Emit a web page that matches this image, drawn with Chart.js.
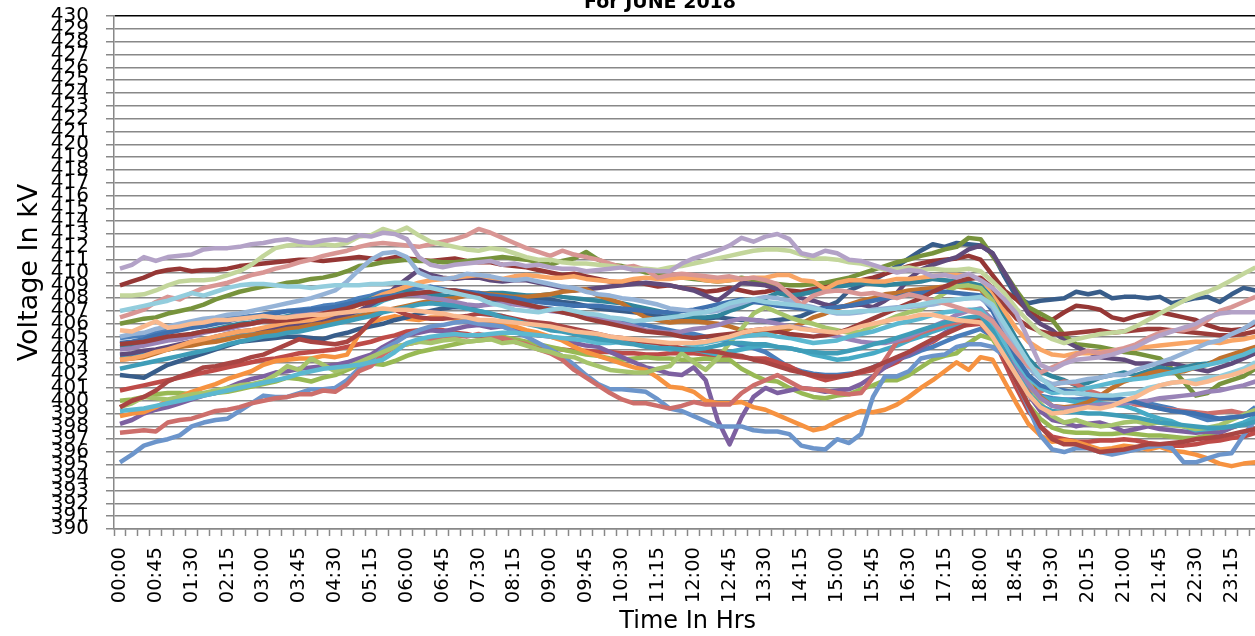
<!DOCTYPE html>
<html>
<head>
<meta charset="utf-8">
<title>Voltage profile - June 2018</title>
<script src="https://cdn.jsdelivr.net/npm/chart.js@4.4.1/dist/chart.umd.min.js"></script>
<style>
  html, body { margin: 0; padding: 0; background: #fff; overflow: hidden; }
  body { width: 1255px; height: 636px; position: relative; }
  #voltageChart { position: absolute; left: 0; top: -30px; }
  #chartTitle {
    position: absolute; top: -10px; left: 460px; width: 400px; text-align: center;
    font-family: "DejaVu Sans", sans-serif; font-weight: bold; font-size: 19px; line-height: 22px; color: #000;
  }
</style>
</head>
<body>
<canvas id="voltageChart" width="1290" height="666"></canvas>
<div id="chartTitle">For JUNE 2018</div>
<script>
// time of day, 15 minute steps
const times = [
  '00:00','00:15','00:30','00:45','01:00','01:15','01:30','01:45','02:00','02:15','02:30','02:45',
  '03:00','03:15','03:30','03:45','04:00','04:15','04:30','04:45','05:00','05:15','05:30','05:45',
  '06:00','06:15','06:30','06:45','07:00','07:15','07:30','07:45','08:00','08:15','08:30','08:45',
  '09:00','09:15','09:30','09:45','10:00','10:15','10:30','10:45','11:00','11:15','11:30','11:45',
  '12:00','12:15','12:30','12:45','13:00','13:15','13:30','13:45','14:00','14:15','14:30','14:45',
  '15:00','15:15','15:30','15:45','16:00','16:15','16:30','16:45','17:00','17:15','17:30','17:45',
  '18:00','18:15','18:30','18:45','19:00','19:15','19:30','19:45','20:00','20:15','20:30','20:45',
  '21:00','21:15','21:30','21:45','22:00','22:15','22:30','22:45','23:00','23:15','23:30','23:45'
];

// voltage readings (kV)
const lavender = [
  410.3,410.6,411.2,410.9,411.2,411.3,411.4,411.8,411.9,411.9,412.0,412.2,
  412.3,412.5,412.6,412.4,412.3,412.5,412.6,412.5,412.9,412.8,413.1,413.0,
  412.6,411.2,410.6,410.4,410.6,410.7,410.8,410.9,410.6,410.7,410.5,410.6,
  410.4,410.3,410.3,410.1,410.2,410.3,410.4,410.2,410.2,410.1,410.1,410.7,
  411.1,411.4,411.7,412.1,412.7,412.4,412.8,413.0,412.6,411.5,411.3,411.7,
  411.5,411.0,410.9,410.6,410.3,410.0,410.2,410.1,409.7,409.8,409.6,409.9,
  409.4,408.8,407.9,406.8,404.8,402.8,402.4,402.9,403.2,403.3,403.4,403.6,
  403.9,404.2,404.7,405.1,405.4,405.7,406.0,406.5,406.8,406.9,406.9,406.9
];
const darkRed = [
  409.0,409.3,409.6,410.0,410.2,410.3,410.1,410.2,410.2,410.3,410.5,410.6,
  410.7,410.8,410.9,411.0,411.0,410.9,411.0,411.1,411.2,411.1,411.0,411.2,
  411.1,411.0,410.9,411.0,411.1,410.9,410.8,410.8,410.6,410.5,410.4,410.2,
  410.0,409.8,409.9,409.7,409.5,409.3,409.2,409.3,409.1,408.9,409.0,408.8,
  408.7,408.5,408.6,408.8,408.6,408.4,408.5,408.7,408.6,408.5,408.7,408.9,
  409.0,409.2,409.4,409.6,409.9,410.2,410.5,410.7,410.9,411.0,411.1,411.3,
  411.0,409.8,408.6,407.9,407.0,406.4,406.3,406.9,407.4,407.3,407.1,406.5,
  406.3,406.6,406.8,406.9,406.7,406.5,406.3,405.9,405.6,405.5,405.6,406.0
];
const lightGreen = [
  408.2,408.2,408.3,408.6,409.0,409.3,409.4,409.4,409.5,409.8,410.1,410.6,
  411.3,411.9,412.1,412.2,412.1,412.2,412.1,412.3,412.8,412.9,413.4,413.1,
  413.5,412.9,412.4,412.2,412.0,411.8,411.7,411.9,411.8,411.5,411.2,411.0,
  411.0,410.8,410.7,410.7,410.6,410.5,410.4,410.3,410.3,410.2,410.4,410.5,
  410.7,410.9,411.1,411.3,411.5,411.7,411.8,411.8,411.7,411.4,411.1,411.1,
  411.0,410.8,410.7,410.5,410.2,410.3,410.4,410.2,410.3,410.2,410.2,410.3,
  410.1,409.3,408.4,407.2,406.2,405.3,404.8,404.5,404.8,405.0,405.2,405.3,
  405.4,405.8,406.3,406.8,407.3,407.8,408.2,408.5,408.9,409.4,409.9,410.4
];
const pink = [
  406.5,406.8,407.1,407.7,408.1,407.9,408.4,408.8,409.0,409.2,409.5,409.8,
  410.0,410.3,410.5,410.8,411.0,411.3,411.5,411.7,412.0,412.2,412.3,412.2,
  412.1,412.0,412.2,412.4,412.6,412.9,413.4,413.1,412.7,412.3,411.9,411.6,
  411.3,411.7,411.4,411.2,411.0,410.7,410.4,410.5,410.2,409.6,409.8,409.9,
  409.8,409.7,409.6,409.7,409.5,409.6,409.4,409.1,408.3,407.5,408.2,408.5,
  408.6,408.5,408.3,408.4,408.2,408.0,408.3,408.1,407.8,407.6,407.3,407.0,
  406.8,406.2,405.0,403.8,402.7,402.2,402.6,403.0,403.6,403.9,403.7,403.9,
  404.1,404.4,404.9,405.3,405.5,405.5,405.7,406.3,407.0,407.3,407.7,408.1
];
const periwinkle = [
  405.0,405.2,405.3,405.6,405.8,406.0,406.2,406.4,406.5,406.7,406.8,407.0,
  407.2,407.4,407.6,407.8,408.0,408.3,408.6,409.3,410.2,411.0,411.5,411.6,
  411.2,410.0,409.6,409.5,409.6,409.9,409.8,409.7,409.5,409.4,409.5,409.3,
  409.1,408.9,408.8,408.5,408.3,408.2,408.0,407.9,407.7,407.5,407.2,407.1,
  407.0,406.9,407.0,407.3,407.6,407.9,408.1,408.0,407.8,407.5,407.3,407.0,
  406.8,406.8,406.9,407.1,407.2,407.3,407.3,407.4,407.5,407.7,407.9,408.0,
  408.0,407.3,405.6,404.0,402.6,401.7,401.3,401.4,401.5,401.7,401.8,402.0,
  402.0,402.4,402.7,403.0,403.3,403.7,404.1,404.5,404.7,405.2,405.6,406.2
];
const lightAqua = [
  407.0,407.2,407.4,407.6,407.8,408.1,408.4,408.2,408.5,408.8,409.0,409.1,
  409.1,409.0,408.9,408.9,408.8,408.9,409.0,409.0,409.0,409.1,409.1,409.2,
  409.2,409.0,408.8,408.6,408.4,408.2,408.0,407.6,407.4,407.1,407.0,406.9,
  407.1,407.2,407.0,406.8,406.7,406.5,406.4,406.2,406.3,406.4,406.5,406.6,
  406.8,406.9,407.2,407.6,407.8,407.9,407.7,407.6,407.5,407.4,407.2,407.0,
  406.9,406.9,407.0,407.0,407.1,407.2,407.4,407.5,407.7,407.8,407.9,408.0,
  408.1,407.5,406.0,404.5,403.0,401.8,401.0,400.6,400.6,400.5,400.4,400.4,
  400.5,400.6,401.0,401.2,401.4,401.5,401.6,401.8,401.9,402.2,402.5,403.0
];
const darkBlue = [
  402.0,401.9,401.8,402.3,402.8,403.1,403.4,403.7,404.0,404.3,404.6,404.7,
  404.8,404.9,405.0,405.0,404.9,404.8,405.1,405.3,405.6,405.8,406.0,406.3,
  406.5,406.8,407.0,407.2,407.3,407.3,407.4,407.6,407.9,407.8,407.8,407.9,
  407.9,407.7,407.6,407.4,407.2,407.1,407.0,406.9,406.8,406.6,406.5,406.5,
  406.4,406.4,406.5,406.4,406.3,406.3,406.2,406.3,406.4,406.6,407.0,407.3,
  407.7,408.6,409.0,409.4,409.9,410.5,411.1,411.7,412.2,412.0,412.3,412.2,
  412.1,411.5,409.7,408.1,407.6,407.8,407.9,408.0,408.5,408.3,408.5,408.0,
  408.1,408.1,408.0,408.1,407.6,407.8,408.0,408.1,407.7,408.3,408.8,408.6
];
const olive = [
  406.0,406.2,406.4,406.5,406.8,407.0,407.2,407.5,407.9,408.2,408.5,408.7,
  408.9,409.0,409.2,409.3,409.5,409.6,409.8,410.1,410.5,410.6,410.8,410.9,
  411.0,410.9,410.9,410.8,410.8,410.9,411.0,411.1,411.2,411.1,411.0,410.8,
  410.6,410.9,411.1,411.6,411.0,410.6,410.5,410.3,410.0,409.9,409.7,409.6,
  409.5,409.4,409.3,409.4,409.6,409.4,409.2,409.1,409.0,409.0,409.1,409.2,
  409.4,409.6,409.9,410.2,410.5,410.8,411.0,411.3,411.5,411.8,412.0,412.7,
  412.6,411.3,410.0,408.6,407.3,406.8,406.3,405.1,404.4,404.3,404.2,404.0,
  403.8,403.7,403.5,403.3,402.5,401.5,400.4,400.6,401.3,401.6,401.9,402.5
];
const darkPurple = [
  403.6,403.7,403.9,404.0,404.2,404.4,404.6,404.7,405.0,405.2,405.4,405.5,
  405.6,405.7,405.8,406.0,406.2,406.3,406.5,406.7,407.0,407.5,408.0,408.8,
  409.5,410.2,409.8,409.6,409.5,409.6,409.6,409.4,409.3,409.4,409.4,409.2,
  409.0,408.8,408.6,408.7,408.8,408.9,409.0,409.1,409.2,409.1,409.0,408.8,
  408.6,408.2,407.8,408.5,409.2,409.1,409.0,408.7,408.3,408.0,407.8,407.5,
  407.3,407.4,407.5,407.3,407.8,408.4,409.5,410.2,410.6,410.9,411.2,411.8,
  412.1,411.5,410.0,408.4,406.8,406.0,405.5,404.7,404.2,403.8,403.4,403.3,
  403.2,402.9,402.9,402.8,402.9,402.7,402.5,402.3,402.6,402.9,403.3,403.7
];
const brick = [
  399.5,400.0,400.3,400.8,401.5,401.9,402.2,402.6,402.7,402.9,403.1,403.4,
  403.6,404.0,404.4,404.8,404.6,404.5,404.4,404.6,405.2,406.2,407.0,407.1,
  406.7,406.5,406.4,406.4,406.5,406.6,406.8,406.7,406.6,406.4,406.2,406.1,
  406.0,405.8,405.6,405.4,405.2,405.0,404.9,404.7,404.6,404.5,404.3,404.1,
  404.0,403.9,403.8,403.6,403.5,403.2,403.0,402.7,402.4,402.2,402.0,401.9,
  401.9,402.0,402.3,402.6,403.0,403.4,403.8,404.3,404.8,405.2,405.6,406.0,
  406.4,405.2,403.4,401.5,399.7,398.0,397.0,396.6,396.6,396.3,396.0,396.1,
  396.2,396.4,396.6,396.6,396.7,396.8,397.0,397.1,397.2,397.4,397.6,397.8
];
const maroon = [
  404.4,404.5,404.6,404.8,405.0,405.1,405.2,405.4,405.5,405.7,405.9,406.0,
  406.2,406.2,406.3,406.4,406.6,406.8,407.0,407.2,407.5,407.7,407.9,408.1,
  408.3,408.4,408.5,408.6,408.6,408.4,408.2,408.0,407.9,407.7,407.5,407.3,
  407.1,406.9,406.7,406.4,406.2,406.0,405.8,405.6,405.4,405.3,405.2,405.0,
  404.9,405.0,405.1,405.2,405.3,405.5,405.6,405.4,405.2,405.1,405.0,405.1,
  405.3,405.6,406.0,406.4,406.8,407.2,407.6,408.0,408.5,408.9,409.3,409.5,
  409.6,408.8,407.5,406.4,405.8,405.4,405.2,405.2,405.3,405.4,405.5,405.3,
  405.4,405.5,405.6,405.6,405.5,405.4,405.3,405.2,405.1,405.1,405.2,405.4
];
const steelBlue = [
  395.2,395.8,396.5,396.8,397.0,397.3,398.0,398.3,398.5,398.6,399.2,399.8,
  400.4,400.3,400.3,400.6,400.9,400.9,401.0,401.6,402.5,403.2,404.0,404.5,
  405.1,405.5,405.8,405.9,406.1,406.2,406.0,405.9,405.8,405.4,405.0,404.5,
  404.0,403.5,402.8,402.0,401.3,400.9,400.9,400.8,400.7,400.1,399.4,399.2,
  398.8,398.4,398.0,398.0,398.0,397.7,397.6,397.6,397.4,396.5,396.3,396.2,
  397.0,396.7,397.4,400.3,401.9,401.9,402.3,403.3,403.5,403.6,404.2,404.4,
  404.4,404.2,403.5,401.5,399.5,397.3,396.2,396.0,396.3,396.3,396.0,395.8,
  396.0,396.2,396.4,396.5,396.3,395.2,395.2,395.5,395.8,395.9,397.3,398.5
];
const salmon = [
  397.5,397.6,397.7,397.6,398.3,398.5,398.6,398.9,399.2,399.3,399.5,399.8,
  400.0,400.2,400.3,400.5,400.5,400.8,400.7,401.3,402.3,402.7,403.6,404.2,
  404.4,404.6,404.8,405.0,405.1,405.0,405.2,405.0,404.9,404.6,404.4,404.0,
  403.7,403.2,402.4,401.8,401.2,400.6,400.1,399.8,399.8,399.6,399.4,399.6,
  399.9,399.7,399.7,399.7,400.6,401.2,401.6,402.0,401.5,401.0,400.9,400.8,
  400.6,400.5,400.6,401.8,403.2,404.6,404.8,405.3,405.6,405.9,406.1,406.3,
  406.3,405.5,403.5,401.5,400.8,400.7,401.2,401.5,401.3,400.8,400.5,400.3,
  400.0,399.7,399.6,399.4,399.3,399.2,399.1,399.0,399.1,399.2,399.0,399.0
];
const purple = [
  398.2,398.5,399.0,399.3,399.5,399.8,400.1,400.4,400.6,401.0,401.4,401.7,
  401.9,402.2,402.3,402.5,402.6,402.7,402.8,403.0,403.3,403.6,404.2,404.7,
  405.1,405.3,405.5,405.4,405.6,405.8,405.9,405.7,405.8,405.5,405.3,405.1,
  405.0,404.8,404.5,404.3,404.2,403.8,403.4,403.0,402.6,402.4,402.1,402.0,
  402.6,401.6,398.5,396.6,398.7,400.3,401.0,400.6,400.8,401.0,400.9,400.7,
  400.8,400.9,401.3,401.9,402.6,403.2,403.6,404.1,404.7,405.3,405.8,406.2,
  406.5,405.6,404.0,402.2,400.5,399.2,398.5,398.3,398.0,398.2,398.3,398.0,
  397.6,397.8,398.0,397.8,397.7,397.6,397.5,397.6,397.5,397.9,398.2,398.7
];
const orange = [
  398.8,399.0,399.1,399.5,400.0,400.3,400.7,401.0,401.3,401.7,402.0,402.3,
  402.8,403.1,403.2,403.3,403.3,403.5,403.4,403.6,405.2,406.1,406.4,406.6,
  406.4,406.3,406.5,406.5,406.4,406.3,406.3,406.1,405.9,405.8,405.5,405.3,
  405.0,404.7,404.2,403.8,403.5,403.2,402.9,402.6,402.4,401.8,401.1,401.0,
  400.7,400.0,399.8,399.8,399.9,399.5,399.3,398.9,398.5,398.1,397.7,397.9,
  398.4,398.8,399.2,399.1,399.3,399.7,400.3,401.0,401.6,402.3,403.0,402.4,
  403.4,403.2,401.5,399.8,398.2,397.3,396.8,396.9,396.8,396.5,396.2,396.3,
  396.5,396.4,396.2,396.4,396.1,396.0,395.8,395.5,395.1,394.9,395.1,395.2
];
const aqua = [
  403.5,403.6,403.8,403.9,404.0,404.2,404.4,404.6,404.8,404.9,405.1,405.3,
  405.5,405.6,405.8,405.9,406.0,406.1,406.2,406.4,406.8,407.3,407.8,408.1,
  408.4,408.3,408.1,407.8,407.5,407.2,407.0,406.8,406.6,406.3,406.1,406.0,
  405.8,405.6,405.4,405.2,405.0,404.9,404.8,404.6,404.5,404.3,404.1,404.0,
  404.0,403.8,403.6,403.8,404.0,404.2,404.3,404.2,404.1,403.9,403.6,403.4,
  403.2,403.3,403.5,403.7,404.0,404.3,404.7,405.0,405.4,405.7,406.0,406.2,
  406.4,405.4,403.6,402.0,400.9,400.3,400.1,400.1,399.9,399.9,399.8,399.7,
  399.6,399.3,398.9,398.6,398.4,398.0,397.7,397.8,397.9,398.0,398.3,398.7
];
const blue = [
  404.9,405.0,405.1,405.4,405.6,405.8,405.9,406.1,406.2,406.4,406.5,406.6,
  406.7,406.9,407.0,407.1,407.2,407.4,407.5,407.7,408.0,408.2,408.5,408.6,
  408.7,408.8,408.9,408.7,408.5,408.3,408.1,408.0,407.8,407.6,407.5,407.3,
  407.2,407.0,406.9,406.7,406.6,406.4,406.2,406.0,405.9,405.7,405.5,405.3,
  405.2,405.0,404.8,404.6,404.3,404.1,403.8,403.2,402.6,402.3,402.1,402.0,
  402.0,402.1,402.2,402.6,403.0,403.2,403.5,403.9,404.2,404.6,405.0,405.3,
  405.6,405.0,403.5,402.0,401.0,400.4,400.2,400.1,400.1,400.2,400.2,400.3,
  400.1,399.9,399.8,399.6,399.4,399.1,398.8,398.5,398.6,398.7,398.8,399.5
];
const teal = [
  404.2,404.3,404.5,404.7,404.9,405.0,405.2,405.4,405.6,405.8,406.0,406.1,
  406.3,406.4,406.6,406.8,407.0,407.1,407.3,407.5,407.7,408.0,408.2,408.4,
  408.5,408.4,408.3,408.2,408.1,408.2,408.3,408.4,408.4,408.3,408.2,408.2,
  408.3,408.1,408.0,407.9,407.8,407.7,407.6,407.4,407.2,407.0,406.8,406.6,
  406.5,406.5,406.6,407.0,407.3,407.7,408.0,408.4,408.2,408.3,408.5,408.7,
  408.9,409.0,409.2,409.1,409.0,409.1,409.2,409.3,409.5,409.4,409.3,409.2,
  409.0,408.0,406.5,404.8,403.3,402.3,401.9,401.6,401.2,401.4,401.8,402.0,
  402.2,402.0,402.3,402.6,402.4,402.6,402.8,402.9,403.1,403.3,403.6,404.0
];
const brown = [
  403.2,403.3,403.4,403.7,404.0,404.2,404.3,404.5,404.6,404.8,405.0,405.1,
  405.3,405.4,405.6,405.7,405.9,406.0,406.2,406.4,406.6,406.8,407.0,407.2,
  407.4,407.6,407.8,407.9,408.0,408.2,408.4,408.3,408.2,408.1,408.1,408.2,
  408.3,408.5,408.6,408.7,408.2,407.9,407.6,407.0,406.5,406.3,406.1,406.2,
  406.2,406.1,406.0,405.8,405.5,405.4,405.3,405.4,405.6,406.0,406.5,406.8,
  407.2,407.5,407.8,408.0,408.3,408.4,408.6,408.7,408.8,408.9,408.9,408.8,
  408.7,407.5,405.5,403.5,401.8,400.3,399.6,399.5,399.6,399.9,400.4,401.0,
  401.5,401.8,402.1,402.3,402.2,402.3,402.6,402.8,403.3,403.6,403.9,404.2
];
const peach = [
  405.5,405.4,405.8,406.2,405.7,405.8,406.0,406.1,406.3,406.3,406.4,406.5,
  406.6,406.5,406.5,406.6,406.7,406.7,406.8,406.9,407.0,407.1,407.2,407.1,
  407.1,407.0,406.9,406.8,406.6,406.5,406.3,406.3,406.2,406.1,406.0,405.9,
  405.8,405.6,405.4,405.3,405.2,405.0,404.9,404.8,404.7,404.6,404.5,404.5,
  404.5,404.6,404.8,405.0,405.3,405.5,405.6,405.7,405.8,405.6,405.5,405.4,
  405.3,405.5,405.8,406.0,406.2,406.4,406.5,406.7,406.7,406.5,406.3,406.2,
  406.1,405.0,403.5,402.0,400.5,399.5,399.0,399.1,399.3,399.5,399.4,399.6,
  400.0,400.3,400.8,401.2,401.4,401.5,401.3,401.5,401.8,402.0,402.3,402.7
];
const lightOrange = [
  403.2,403.3,403.5,403.8,404.0,404.3,404.6,404.8,405.0,405.2,405.4,405.5,
  405.7,405.9,406.1,406.2,406.3,406.5,406.8,407.1,407.5,407.9,408.3,408.6,
  408.9,409.2,409.4,409.5,409.6,409.7,409.8,409.6,409.5,409.7,409.8,409.7,
  409.6,409.6,409.7,409.5,409.4,409.3,409.3,409.5,409.6,409.5,409.5,409.6,
  409.6,409.4,409.3,409.4,409.5,409.6,409.6,409.8,409.8,409.4,409.3,408.7,
  409.2,409.4,409.4,409.3,409.3,409.5,409.5,409.6,409.7,409.8,409.8,409.7,
  409.5,408.5,407.0,405.6,404.6,404.0,403.6,403.5,403.7,403.7,403.8,403.9,
  404.0,404.1,404.2,404.3,404.4,404.5,404.6,404.6,404.5,404.7,404.8,405.0
];
const paleGreen = [
  399.5,399.8,400.3,400.2,400.1,400.3,400.5,400.6,400.8,401.0,401.2,401.3,
  401.5,402.0,402.7,402.4,403.3,402.8,402.3,402.6,403.0,403.4,403.8,404.2,
  404.4,404.6,404.5,404.7,404.8,404.6,404.7,404.8,404.5,404.6,404.3,404.0,
  403.8,403.5,403.4,403.0,402.7,402.4,402.3,402.2,402.2,402.5,402.7,403.7,
  403.0,402.4,403.3,404.5,405.6,406.8,407.3,406.9,406.5,406.2,406.0,405.7,
  405.5,405.3,405.4,405.8,406.2,406.6,406.9,407.1,407.8,408.4,408.9,409.0,
  408.8,407.8,405.8,403.5,401.5,399.8,398.8,398.3,398.5,398.2,398.0,398.1,
  398.3,398.4,398.2,398.3,398.1,398.0,397.8,397.9,398.1,398.5,398.9,399.3
];
const green = [
  400.0,400.1,400.3,400.5,400.6,400.6,400.5,400.5,400.6,400.7,400.9,401.1,
  401.3,401.5,401.8,401.7,401.5,401.8,402.0,402.4,402.8,402.9,402.8,403.1,
  403.5,403.8,404.0,404.2,404.4,404.6,404.7,404.8,405.0,404.8,404.6,404.4,
  404.2,404.0,403.8,403.6,403.5,403.3,403.2,403.3,403.4,403.3,403.3,403.2,
  403.2,403.3,403.2,403.2,402.5,402.0,401.6,401.5,401.0,400.6,400.3,400.2,
  400.4,400.5,400.9,401.2,401.6,401.6,402.0,402.6,403.2,403.5,403.7,404.5,
  405.1,404.8,403.5,401.6,399.7,398.6,397.9,397.6,397.5,397.5,397.4,397.4,
  397.5,397.4,397.3,397.3,397.2,397.1,397.1,397.3,397.6,397.9,398.2,398.5
];
const skyBlue = [
  399.2,399.3,399.4,399.6,399.8,400.0,400.2,400.4,400.6,400.8,401.0,401.2,
  401.4,401.6,401.8,402.1,402.3,402.5,402.6,402.7,402.8,403.0,403.2,403.8,
  404.5,404.8,405.0,405.1,405.2,405.1,405.1,405.2,405.3,405.3,405.2,405.1,
  405.0,404.9,404.8,404.7,404.5,404.5,404.6,404.5,404.3,404.2,404.0,404.1,
  404.3,404.5,404.7,404.9,405.0,405.1,405.2,405.0,404.9,404.7,404.5,404.6,
  404.7,405.0,405.2,405.4,405.7,406.0,406.2,406.4,406.7,406.9,407.0,407.1,
  407.1,406.0,404.5,403.0,401.8,401.0,400.6,400.7,400.8,401.0,401.2,401.4,
  401.6,401.7,401.8,402.0,402.2,402.4,402.6,402.8,403.0,403.3,403.6,404.0
];
const cyan = [
  402.5,402.7,402.9,403.1,403.3,403.5,403.7,403.9,404.1,404.4,404.6,404.8,
  405.0,405.1,405.3,405.4,405.6,405.8,406.0,406.2,406.4,406.6,406.9,407.1,
  407.3,407.5,407.6,407.5,407.4,407.2,407.0,406.8,406.5,406.3,406.0,405.8,
  405.5,405.4,405.2,405.0,404.8,404.7,404.5,404.4,404.2,404.1,404.1,404.0,
  404.0,404.1,404.3,404.5,404.5,404.4,404.4,404.2,404.1,403.9,403.8,403.7,
  403.7,403.9,404.1,404.4,404.6,404.9,405.2,405.5,405.8,406.1,406.3,406.5,
  406.6,405.5,403.8,402.0,400.6,399.6,399.2,399.1,399.1,399.0,399.0,398.9,
  398.8,398.7,398.5,398.3,398.2,398.1,398.0,397.9,397.9,398.0,398.1,398.4
];
const red = [
  400.8,401.0,401.2,401.4,401.6,401.8,402.0,402.2,402.4,402.6,402.8,403.0,
  403.2,403.3,403.5,403.7,403.8,403.9,404.0,404.2,404.4,404.6,404.9,405.1,
  405.4,405.5,405.6,405.5,405.3,405.2,405.0,404.9,404.8,404.6,404.4,404.3,
  404.1,404.0,403.9,403.9,403.8,403.8,403.7,403.7,403.6,403.6,403.7,403.7,
  403.7,403.6,403.5,403.5,403.4,403.3,403.3,403.0,402.7,402.2,401.9,401.6,
  401.8,402.0,402.2,402.4,402.6,403.0,403.8,404.2,404.6,405.2,405.8,405.9,
  406.0,405.0,403.0,401.0,399.2,398.0,397.2,397.0,396.8,396.8,396.9,396.9,
  397.0,396.9,396.7,396.6,396.5,396.5,396.6,396.8,396.9,397.1,397.2,397.5
];
const mauve = [
  404.0,404.1,404.3,404.5,404.7,404.8,405.0,405.3,405.5,405.6,405.8,406.0,
  406.2,406.3,406.5,406.7,406.9,407.0,407.2,407.4,407.6,407.8,408.0,408.2,
  408.3,408.2,408.0,407.9,407.7,407.5,407.4,407.5,407.6,407.5,407.4,407.2,
  407.0,406.9,406.7,406.6,406.5,406.3,406.0,405.8,405.5,405.4,405.3,405.4,
  405.6,405.7,405.9,406.2,406.4,406.3,406.2,406.0,405.8,405.7,405.5,405.3,
  405.0,404.8,404.6,404.5,404.5,404.7,405.0,405.4,405.8,406.2,406.7,407.0,
  407.2,406.3,404.6,402.8,401.3,400.2,399.6,399.4,399.5,399.6,399.7,399.7,
  399.8,399.9,400.0,400.2,400.3,400.4,400.5,400.7,400.8,401.0,401.2,401.5
];
const navy = [
  404.5,404.6,404.8,405.1,405.3,405.5,405.7,405.8,406.0,406.2,406.4,406.5,
  406.7,406.8,407.0,407.0,407.1,407.2,407.3,407.5,407.7,407.9,408.1,408.2,
  408.3,408.4,408.5,408.6,408.6,408.5,408.4,408.2,408.1,408.0,407.8,407.7,
  407.6,407.5,407.4,407.4,407.4,407.3,407.2,407.1,407.0,406.9,406.9,407.0,
  407.1,407.3,407.5,407.7,407.9,407.7,407.6,407.4,407.3,407.2,407.1,407.2,
  407.3,407.4,407.6,407.8,408.0,408.1,408.3,408.4,408.5,408.5,408.4,408.3,
  408.2,407.0,405.2,403.4,402.0,401.2,400.9,400.8,400.6,400.5,400.3,400.2,
  400.1,399.9,399.6,399.4,399.2,399.1,399.0,398.8,398.6,398.7,398.8,399.0
];

const yTicks = [390, 430]; // axis range
const yTitle = 'Voltage In kV';
const xTitle = 'Time In Hrs';

const seriesList = [
  { label: '01-06-2018', data: blue,        color: '#4A7EBB' },
  { label: '02-06-2018', data: red,         color: '#BE4B48' },
  { label: '03-06-2018', data: green,       color: '#98B954' },
  { label: '04-06-2018', data: purple,      color: '#7D60A0' },
  { label: '05-06-2018', data: aqua,        color: '#46AAC5' },
  { label: '06-06-2018', data: orange,      color: '#F69240' },
  { label: '07-06-2018', data: darkBlue,    color: '#385D8A' },
  { label: '08-06-2018', data: darkRed,     color: '#953735' },
  { label: '09-06-2018', data: olive,       color: '#77933C' },
  { label: '10-06-2018', data: darkPurple,  color: '#604A7B' },
  { label: '11-06-2018', data: teal,        color: '#31859C' },
  { label: '12-06-2018', data: brown,       color: '#C0722E' },
  { label: '13-06-2018', data: steelBlue,   color: '#6C95CB' },
  { label: '14-06-2018', data: salmon,      color: '#CD6E6B' },
  { label: '15-06-2018', data: paleGreen,   color: '#A6C46C' },
  { label: '16-06-2018', data: mauve,       color: '#9983B7' },
  { label: '17-06-2018', data: skyBlue,     color: '#5CB8D0' },
  { label: '18-06-2018', data: lightOrange, color: '#F9A565' },
  { label: '19-06-2018', data: navy,        color: '#3F71AF' },
  { label: '20-06-2018', data: brick,       color: '#A94543' },
  { label: '21-06-2018', data: maroon,      color: '#9B3D3A' },
  { label: '22-06-2018', data: cyan,        color: '#3F9DB8' },
  { label: '23-06-2018', data: periwinkle,  color: '#95B3D7' },
  { label: '24-06-2018', data: pink,        color: '#D99694' },
  { label: '25-06-2018', data: lightGreen,  color: '#C3D69B' },
  { label: '26-06-2018', data: lavender,    color: '#B3A2C7' },
  { label: '27-06-2018', data: lightAqua,   color: '#93CDDD' },
  { label: '28-06-2018', data: peach,       color: '#F9B98F' }
];

const gridGray = '#888888';
const fontFamily = '"DejaVu Sans", sans-serif';

const ctx = document.getElementById('voltageChart').getContext('2d');
const chart = new Chart(ctx, {
  type: 'line',
  data: {
    labels: times,
    datasets: seriesList.map((s, i) => ({
      label: s.label,
      data: s.data,
      borderColor: s.color,
      backgroundColor: s.color,
      borderWidth: 4.5,
      pointRadius: 0,
      tension: 0,
      fill: false,
      borderJoinStyle: 'round',
      order: seriesList.length - i // later series on top, like Excel
    }))
  },
  options: {
    responsive: false,
    animation: false,
    devicePixelRatio: 1,
    layout: { padding: { top: 46, right: 26, left: 0, bottom: 0 } },
    plugins: {
      legend: { display: false },
      tooltip: { enabled: false },
      title: { display: false }
    },
    scales: {
      x: {
        type: 'category',
        offset: true,
        afterFit: (scale) => { scale.height = 107; },
        grid: {
          offset: true,
          drawOnChartArea: false,
          drawTicks: true,
          tickLength: 7,
          tickWidth: 1.5,
          tickColor: gridGray,
          color: gridGray
        },
        border: { display: true, color: gridGray, width: 1.5 },
        ticks: {
          autoSkip: false,
          maxRotation: 90,
          minRotation: 90,
          padding: 11,
          color: '#000',
          font: { family: fontFamily, size: 19.5 },
          callback: function (value, index) {
            return index % 3 === 0 ? this.getLabelForValue(value) : '';
          }
        },
        title: {
          display: true,
          text: xTitle,
          color: '#000',
          font: { family: fontFamily, size: 24, lineHeight: 1 },
          padding: { top: 0, bottom: 2 }
        }
      },
      y: {
        min: yTicks[0],
        max: yTicks[1],
        afterFit: (scale) => { scale.width = 114; },
        grid: {
          drawTicks: true,
          tickLength: 8,
          lineWidth: 1.5,
          color: (c) => (c.tick && c.tick.value === yTicks[1]) ? '#000' : gridGray,
          tickColor: gridGray
        },
        border: { display: true, color: gridGray, width: 1.5 },
        ticks: {
          stepSize: 1,
          autoSkip: false,
          padding: 17,
          color: '#000',
          font: { family: fontFamily, size: 20 }
        },
        title: {
          display: true,
          text: yTitle,
          color: '#000',
          font: { family: fontFamily, size: 27 },
          padding: { top: 14, bottom: 0 }
        }
      }
    }
  }
});
</script>
</body>
</html>
